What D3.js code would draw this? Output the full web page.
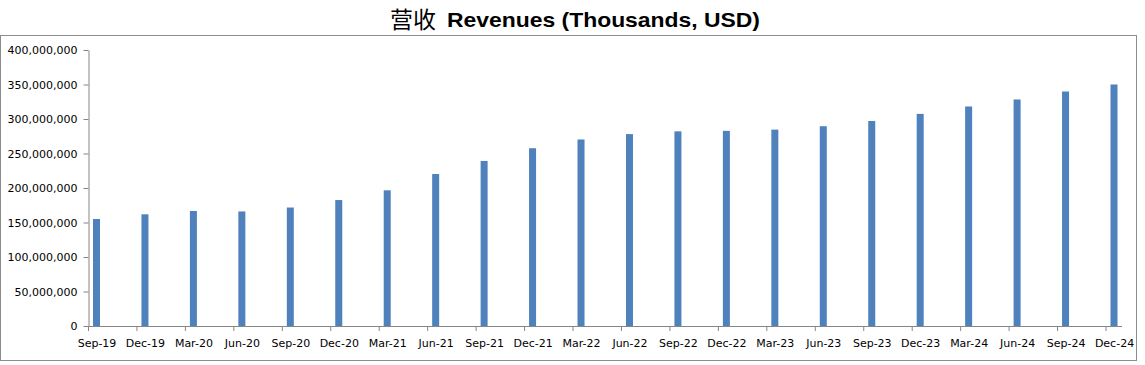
<!DOCTYPE html>
<html>
<head>
<meta charset="utf-8">
<script src="https://cdn.jsdelivr.net/npm/d3@7"></script>
<style>
  html, body { margin: 0; padding: 0; background: #fff; }
  svg { display: block; }
</style>
</head>
<body>
<svg id="chart" width="1145" height="365"></svg>
<script>
const categories = ["Sep-19","Dec-19","Mar-20","Jun-20","Sep-20","Dec-20","Mar-21","Jun-21","Sep-21","Dec-21","Mar-22","Jun-22","Sep-22","Dec-22","Mar-23","Jun-23","Sep-23","Dec-23","Mar-24","Jun-24","Sep-24","Dec-24"];
const revenues = [155058000,161857000,166677000,166030000,171704000,182527000,196682000,220265000,239210000,257637000,270334000,278139000,282113000,282836000,284612000,289531000,297132000,307394000,318146000,328284000,339859000,350018000];
const yTicks = [0,50000000,100000000,150000000,200000000,250000000,300000000,350000000,400000000];
const titleCn = "营收";
const titleEn = "Revenues (Thousands, USD)";

const svg = d3.select("#chart");
const axisColor = "#868686";
const barColor = "#4F81BD";

// outer chart border
svg.append("rect")
  .attr("x", 0.5).attr("y", 35.5)
  .attr("width", 1136).attr("height", 325)
  .attr("fill", "none").attr("stroke", "#8c8c8c").attr("stroke-width", 1);

// title
svg.append("text")
  .attr("x", 390).attr("y", 28)
  .attr("font-family", "'Noto Sans CJK SC', sans-serif")
  .attr("font-size", 23)
  .attr("fill", "#000")
  .text(titleCn);
svg.append("text")
  .attr("x", 447).attr("y", 27)
  .attr("font-family", "'Liberation Sans', Arial, sans-serif")
  .attr("font-weight", "bold")
  .attr("font-size", 21)
  .attr("textLength", 313)
  .attr("lengthAdjust", "spacingAndGlyphs")
  .attr("fill", "#000")
  .text(titleEn);

const x = d3.scalePoint().domain(categories).range([96.5, 1114]);
const y = d3.scaleLinear().domain([0, 400000000]).range([326, 50]);
const barW = 7;

// bars
svg.append("g").selectAll("rect")
  .data(categories.map((c, i) => ({c, v: revenues[i]})))
  .join("rect")
  .attr("x", d => x(d.c) - barW / 2)
  .attr("y", d => y(d.v))
  .attr("width", barW)
  .attr("height", d => y(0) - y(d.v))
  .attr("fill", barColor);

// y axis
const yAxis = svg.append("g")
  .attr("transform", "translate(88.5,0)")
  .call(d3.axisLeft(y).tickValues(yTicks).tickFormat(d3.format(",")).tickSize(5).tickPadding(6).tickSizeOuter(0));
yAxis.selectAll("path, line").attr("stroke", axisColor);
yAxis.selectAll("text")
  .attr("font-family", "'DejaVu Sans', Verdana, sans-serif")
  .attr("font-size", 11)
  .attr("fill", "#000");

// x axis labels
const xLabels = svg.append("g")
  .attr("transform", `translate(0,${y(0)})`)
  .call(d3.axisBottom(x).tickSize(0).tickPadding(13));
xLabels.select(".domain").remove();
xLabels.selectAll("text")
  .attr("font-family", "'DejaVu Sans', Verdana, sans-serif")
  .attr("font-size", 11)
  .attr("fill", "#000");

// x axis tick marks (placed at the left edge of each date slot)
const xTicks = svg.append("g")
  .attr("transform", `translate(-8.5,${y(0)})`)
  .call(d3.axisBottom(x).tickSize(5).tickFormat(""));
xTicks.select(".domain").remove();
xTicks.selectAll("line").attr("stroke", axisColor);

// x axis line
svg.append("line")
  .attr("x1", 88).attr("x2", 1122)
  .attr("y1", y(0) + 0.5).attr("y2", y(0) + 0.5)
  .attr("stroke", axisColor);
</script>
</body>
</html>
